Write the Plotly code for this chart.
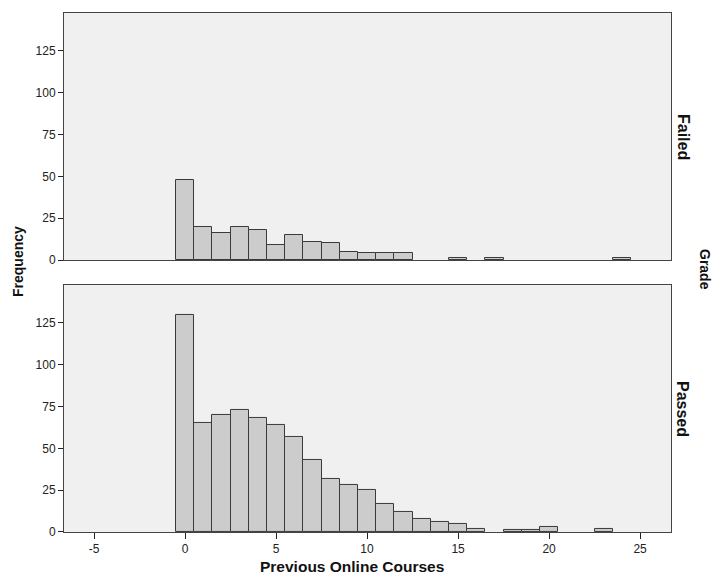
import plotly.graph_objects as go

courses = [0, 1, 2, 3, 4, 5, 6, 7, 8, 9, 10, 11, 12, 13, 14, 15, 16, 17, 18, 19, 20, 21, 22, 23, 24]
failed = [48, 20, 16, 20, 18, 9, 15, 11, 10, 5, 4, 4, 4, 0, 0, 1, 0, 1, 0, 0, 0, 0, 0, 0, 1]
passed = [130, 65, 70, 73, 68, 64, 57, 43, 32, 28, 25, 17, 12, 8, 6, 5, 2, 0, 1, 1, 3, 0, 0, 2, 0]
x_ticks = [-5, 0, 5, 10, 15, 20, 25]
x_tick_text = ["-5", "0", "5", "10", "15", "20", "25"]
y_ticks = [0, 25, 50, 75, 100, 125]

FONT = "Liberation Sans, Arial, sans-serif"
BAR_FILL = "#cccccc"
BAR_LINE = "#3a3a3a"
BG = "#f0f0f0"
AX = "#444444"


def nonzero(xs, ys):
    pairs = [(x, y) for x, y in zip(xs, ys) if y > 0]
    return [p[0] for p in pairs], [p[1] for p in pairs]


fx, fy = nonzero(courses, failed)
px, py = nonzero(courses, passed)

fig = go.Figure()
fig.add_trace(go.Bar(x=fx, y=fy, width=1, marker=dict(color=BAR_FILL, line=dict(color=BAR_LINE, width=1)),
                     xaxis="x", yaxis="y", showlegend=False))
fig.add_trace(go.Bar(x=px, y=py, width=1, marker=dict(color=BAR_FILL, line=dict(color=BAR_LINE, width=1)),
                     xaxis="x2", yaxis="y2", showlegend=False))

xrange = [-6.65, 26.7]
yrange = [0, 147.7]
common_x = dict(range=xrange, showgrid=False, zeroline=False, showline=True, linecolor=AX, linewidth=1,
                mirror=True, tickvals=x_ticks, ticktext=x_tick_text, ticks="outside", ticklen=6, tickcolor="#222",
                tickfont=dict(family=FONT, size=12, color="#222"))
common_y = dict(range=yrange, showgrid=False, zeroline=False, showline=True, linecolor=AX, linewidth=1,
                mirror=True, tickvals=y_ticks, ticks="outside", ticklen=5, tickcolor="#222",
                tickfont=dict(family=FONT, size=12, color="#222"))

fig.update_layout(
    width=715, height=582,
    margin=dict(l=64, r=44, t=13, b=50),
    paper_bgcolor="white",
    plot_bgcolor=BG,
    bargap=0,
    xaxis=dict(common_x, anchor="y", showticklabels=False, ticks="", domain=[0, 1]),
    yaxis=dict(common_y, anchor="x", domain=[0.524, 1]),
    xaxis2=dict(common_x, anchor="y2", domain=[0, 1]),
    yaxis2=dict(common_y, anchor="x2", domain=[0, 0.476]),
    annotations=[
        dict(text="<b>Frequency</b>", x=18, y=262, xref="paper", yref="paper", showarrow=False,
             textangle=-90, font=dict(family=FONT, size=14, color="#111")),
        dict(text="<b>Previous Online Courses</b>", x=352, y=566, xref="paper", yref="paper", showarrow=False,
             font=dict(family=FONT, size=15.5, color="#111")),
        dict(text="<b>Failed</b>", x=683, y=137, xref="paper", yref="paper", showarrow=False,
             textangle=90, font=dict(family=FONT, size=16, color="#111")),
        dict(text="<b>Passed</b>", x=683, y=409, xref="paper", yref="paper", showarrow=False,
             textangle=90, font=dict(family=FONT, size=16, color="#111")),
        dict(text="<b>Grade</b>", x=705, y=269, xref="paper", yref="paper", showarrow=False,
             textangle=90, font=dict(family=FONT, size=14, color="#111")),
    ],
)

# convert pixel positions of annotations to paper coordinates
pw = 715 - 64 - 44
ph = 582 - 13 - 50
for a in fig.layout.annotations:
    a.x = (a.x - 64) / pw
    a.y = 1 - (a.y - 13) / ph
    a.xanchor = "center"
    a.yanchor = "middle"

fig.write_html("out.html")
